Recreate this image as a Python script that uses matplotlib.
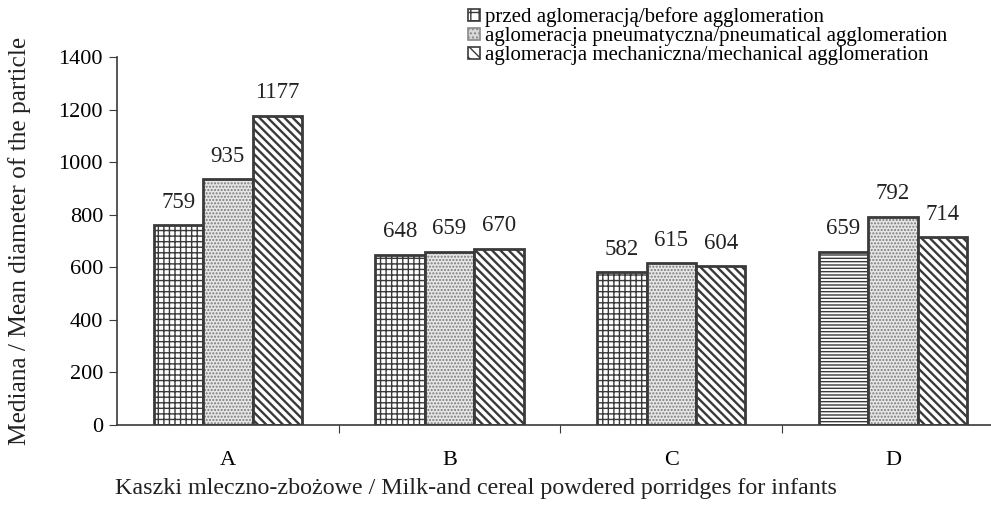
import numpy as np
import matplotlib
matplotlib.use('Agg')
from matplotlib import pyplot as plt
from matplotlib.patches import Patch

plt.rcParams['font.family'] = ['Liberation Serif', 'DejaVu Serif']
plt.rcParams['hatch.linewidth'] = 1.0

categories = ['A', 'B', 'C', 'D']
before = [759, 648, 582, 659]
pneumatic = [935, 659, 615, 792]
mechanical = [1177, 670, 604, 714]

series_labels = ['przed aglomeracją/before agglomeration',
                 'aglomeracja pneumatyczna/pneumatical agglomeration',
                 'aglomeracja mechaniczna/mechanical agglomeration']

edge = '#3a3a3a'
fig = plt.figure(figsize=(9.91, 5.13), dpi=100)
ax = fig.add_axes([0.118, 0.1715, 0.895, 0.7174])

x = np.arange(len(categories))
w = 0.223

# first series: grid hatch, except D which uses horizontal lines
before_hatch = ['+++', '+++', '+++', '-----']
b1 = ax.bar(x - w, before, w, color='white', edgecolor=edge, linewidth=2)
for bar, h in zip(b1, before_hatch):
    bar.set_hatch(h)

# stipple: grey dots underneath, dark outline on top
ax.bar(x, pneumatic, w, color='#e6e6e6', edgecolor='#7a7a7a', linewidth=0,
       hatch='.....')
b2 = ax.bar(x, pneumatic, w, fill=False, edgecolor=edge, linewidth=2)

with plt.rc_context({'hatch.linewidth': 1.7}):
    b3 = ax.bar(x + w, mechanical, w, color='white', edgecolor=edge, linewidth=2,
                hatch='\\\\\\\\')

for bars, vals in [(b1, before), (b2, pneumatic), (b3, mechanical)]:
    for bar, v in zip(bars, vals):
        ax.annotate(str(v), (bar.get_x() + bar.get_width() / 2, v),
                    xytext=(0, 9), textcoords='offset points',
                    ha='center', va='bottom', fontsize=16.5, color='#222222')

ax.set_xlim(-0.5, 3.5)
ax.set_ylim(0, 1400)
ax.set_yticks(range(0, 1401, 200))
ax.set_xticks([0.5, 1.5, 2.5])
ax.set_xticklabels([])
ax.set_xticks(x, minor=True)
ax.set_xticklabels(categories, minor=True)
ax.tick_params(axis='x', which='minor', length=0, pad=19, labelsize=16)
ax.tick_params(axis='x', which='major', length=6, direction='out', color=edge)
ax.tick_params(axis='y', length=6, direction='out', labelsize=16, pad=4, color=edge)

for s in ['top', 'right']:
    ax.spines[s].set_visible(False)
for s in ['left', 'bottom']:
    ax.spines[s].set_color(edge)
    ax.spines[s].set_linewidth(1.2)

fig.text(0.02, 0.53, 'Mediana / Mean diameter of the particle', rotation=90,
         ha='center', va='center', fontsize=18.3, color='#222222')
fig.text(0.48, 0.048, 'Kaszki mleczno-zbożowe / Milk-and cereal powdered porridges for infants',
         ha='center', va='center', fontsize=17.3, color='#222222')

# small square swatches for the legend
handles = [Patch(facecolor='white', edgecolor=edge, hatch='++', linewidth=1.2),
           Patch(facecolor='#d8d8d8', edgecolor='#8a8a8a', hatch='....', linewidth=1.2),
           Patch(facecolor='white', edgecolor=edge, hatch='\\\\\\', linewidth=1.2)]
leg = fig.legend(handles, series_labels, loc='upper left',
                 bbox_to_anchor=(0.458, 1.014), frameon=False,
                 fontsize=15, handlelength=0.55, handleheight=0.55,
                 handletextpad=0.25, labelspacing=0.0, borderpad=0.2)

fig.savefig('out.png', dpi=100)
